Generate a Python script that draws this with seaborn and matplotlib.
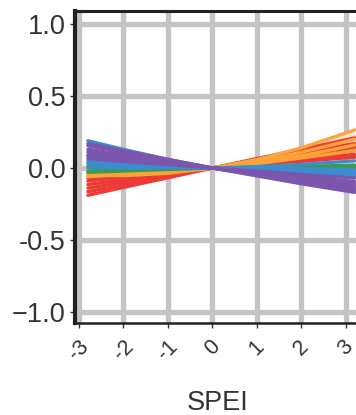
import numpy as np
import pandas as pd
import seaborn as sns
from matplotlib import pyplot as plt

spei = [-2.8, -2.0, -1.0, 0.0, 1.0, 2.0, 3.2]

red_lines = [
    [-0.19, -0.135, -0.068, 0.0, 0.066, 0.13, 0.21],
    [-0.165, -0.118, -0.058, 0.0, 0.055, 0.11, 0.17],
    [-0.14, -0.10, -0.05, 0.0, 0.047, 0.094, 0.145],
    [-0.115, -0.082, -0.041, 0.0, 0.038, 0.076, 0.12],
    [-0.09, -0.064, -0.032, 0.0, 0.03, 0.06, 0.095],
    [-0.07, -0.05, -0.025, 0.0, 0.023, 0.046, 0.075],
]
orange_lines = [
    [-0.05, -0.053, -0.037, 0.0, 0.059, 0.14, 0.265],
    [-0.055, -0.045, -0.028, 0.0, 0.045, 0.11, 0.20],
    [-0.04, -0.033, -0.02, 0.0, 0.035, 0.085, 0.16],
    [-0.06, -0.045, -0.024, 0.0, 0.03, 0.07, 0.12],
]
green_lines = [
    [0.035, 0.025, 0.012, 0.0, 0.005, 0.01, 0.02],
    [0.01, 0.007, 0.003, 0.0, 0.0, 0.0, 0.005],
    [-0.02, -0.014, -0.007, 0.0, 0.004, 0.008, 0.012],
    [-0.03, -0.021, -0.01, 0.0, 0.0, 0.0, 0.0],
]
blue_lines = [
    [0.19, 0.13, 0.06, 0.0, -0.03, -0.045, -0.06],
    [0.08, 0.055, 0.028, 0.0, -0.015, -0.03, -0.045],
    [0.05, 0.035, 0.018, 0.0, -0.01, -0.02, -0.03],
    [0.03, 0.02, 0.01, 0.0, 0.0, -0.005, -0.01],
    [0.0, 0.0, 0.0, 0.0, 0.01, 0.025, 0.05],
]
purple_lines = [
    [0.17, 0.12, 0.06, 0.0, -0.055, -0.11, -0.17],
    [0.155, 0.11, 0.055, 0.0, -0.05, -0.10, -0.155],
    [0.13, 0.093, 0.046, 0.0, -0.043, -0.087, -0.135],
    [0.11, 0.078, 0.04, 0.0, -0.036, -0.072, -0.115],
    [0.09, 0.064, 0.032, 0.0, -0.03, -0.06, -0.095],
    [0.065, 0.046, 0.023, 0.0, -0.022, -0.045, -0.07],
]

groups = {"red": red_lines, "orange": orange_lines, "green": green_lines,
          "blue": blue_lines, "purple": purple_lines}
colors = {"red": "#ec3a36", "orange": "#fca33a", "green": "#3c9b48",
          "blue": "#3d8cd2", "purple": "#7c55af"}
fills = {"red": "#fbd7c8", "orange": "#fde4cc", "green": "#d6ebd6",
         "blue": "#d6e6f5", "purple": "#e3d9ef"}

rows = []
for g, lines in groups.items():
    for i, vals in enumerate(lines):
        for x, y in zip(spei, vals):
            rows.append({"SPEI": x, "effect": y, "group": g, "line": f"{g}{i}"})
df = pd.DataFrame(rows)

sns.set_theme(style="whitegrid")
plt.rcParams["font.family"] = ["Liberation Sans", "DejaVu Sans"]

fig = plt.figure(figsize=(3.56, 4.15), dpi=100)
ax = fig.add_axes([75 / 356, 92 / 415, 286 / 356, 312 / 415])

# pale bands behind each colour group
for g, lines in groups.items():
    arr = np.array(lines)
    ax.fill_between(spei, arr.min(axis=0), arr.max(axis=0), color=fills[g], lw=0, zorder=2)

sns.lineplot(data=df, x="SPEI", y="effect", hue="group", units="line", estimator=None,
             hue_order=["red", "orange", "green", "blue", "purple"], palette=colors,
             linewidth=2.4, legend=False, ax=ax, zorder=3)

ax.set_xlim(-3.09, 3.34)
ax.set_ylim(-1.08, 1.094)
ax.set_xticks([-3, -2, -1, 0, 1, 2, 3])
ax.set_xticklabels(["-3", "-2", "-1", "0", "1", "2", "3"], rotation=45, ha="center",
                   fontsize=15.5, color="#333333")
ax.set_yticks([-1, -0.5, 0, 0.5, 1])
ax.set_yticklabels(["\u22121.0", "-0.5", "0.0", "0.5", "1.0"], fontsize=19.5, color="#333333")
ax.set_xlabel("SPEI", fontsize=19.5, color="#333333", labelpad=18)
ax.set_ylabel("")

ax.grid(True, color="#c4c4c4", linewidth=3.8)
ax.set_axisbelow(True)
ax.tick_params(axis="both", which="major", length=3.6, width=1, color="#333333",
               left=True, bottom=True)
ax.tick_params(axis="x", pad=6)
ax.tick_params(axis="y", pad=3)
for side in ["left", "bottom", "top"]:
    ax.spines[side].set_visible(True)
    ax.spines[side].set_color("#222222")
ax.spines["left"].set_linewidth(3.0)
ax.spines["top"].set_linewidth(2.2)
ax.spines["bottom"].set_linewidth(1.8)
ax.spines["right"].set_visible(False)

fig.savefig("out.png", dpi=100)
